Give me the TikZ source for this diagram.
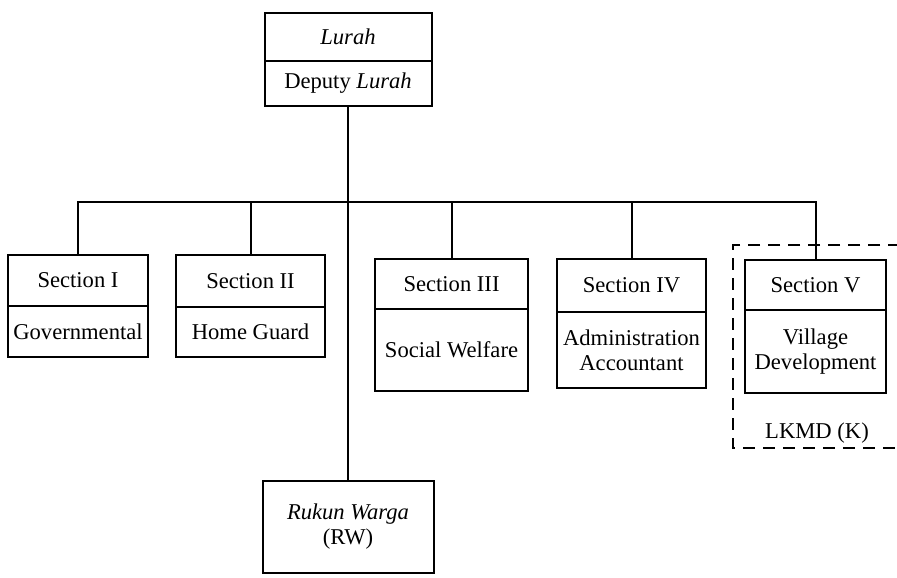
\documentclass[tikz,border=0pt]{standalone}
\usepackage{fontspec}
\setmainfont{Liberation Serif}
\usetikzlibrary{positioning}

\begin{document}
\begin{tikzpicture}[
			x=0.5pt, y=-0.5pt,
			every node/.style={
					font=\fontsize{11.3}{12.5}\selectfont
				},
			cell/.style={
					draw,
					line width=1pt,
					outer sep=0pt, % so that stacked cells share one border
					inner sep=0pt,
					align=center
				},
			link/.style={line width=1pt}
		]
		\useasboundingbox (0,0) rectangle (897,577);

		% head of the village
		\node[cell, anchor=north west, minimum width=83.5pt, minimum height=24pt] (lurah) at (264.5,13) {\textit{Lurah}};
		\node[cell, below=0pt of lurah, minimum width=83.5pt, minimum height=22.5pt] (deputy) {Deputy \textit{Lurah}};

		% sections
		\node[cell, anchor=north west, minimum width=70pt, minimum height=25.5pt] (s1h) at (8,255) {Section I};
		\node[cell, below=0pt of s1h, minimum width=70pt, minimum height=25.5pt] (s1b) {Governmental};

		\node[cell, anchor=north west, minimum width=74.5pt, minimum height=26pt] (s2h) at (176,255) {Section II};
		\node[cell, below=0pt of s2h, minimum width=74.5pt, minimum height=25pt] (s2b) {Home Guard};

		\node[cell, anchor=north west, minimum width=76.5pt, minimum height=25pt] (s3h) at (375,259) {Section III};
		\node[cell, below=0pt of s3h, minimum width=76.5pt, minimum height=41pt] (s3b) {Social Welfare};

		\node[cell, anchor=north west, minimum width=74.5pt, minimum height=26.5pt] (s4h) at (557,259) {Section IV};
		\node[cell, below=0pt of s4h, minimum width=74.5pt, minimum height=38pt] (s4b) {Administration\\Accountant};

		\node[cell, anchor=north west, minimum width=70.5pt, minimum height=25pt] (s5h) at (745,260) {Section V};
		\node[cell, below=0pt of s5h, minimum width=70.5pt, minimum height=41.5pt] (s5b) {Village\\Development};

		% community council, open to the right
		\node (lkmd) at (817,433) {LKMD (K)};
		\draw[dashed, line width=1pt, dash pattern=on 6pt off 4pt]
		(900,245) -| (733,448) -- (900,448);

		% neighbourhood units
		\node[cell, anchor=north west, minimum width=85.5pt, minimum height=46pt] (rw) at (262.5,481) {\textit{Rukun Warga}\\(RW)};

		% connectors
		\coordinate (bus) at (348,202);
		\draw[link] (deputy.south) -- (rw.north);
		\draw[link] (s1h.north) |- (bus) -| (s5h.north);
		\draw[link] (s2h.north) -- (s2h.north |- bus);
		\draw[link] (s3h.north) -- (s3h.north |- bus);
		\draw[link] (s4h.north) -- (s4h.north |- bus);
	\end{tikzpicture}
\end{document}
